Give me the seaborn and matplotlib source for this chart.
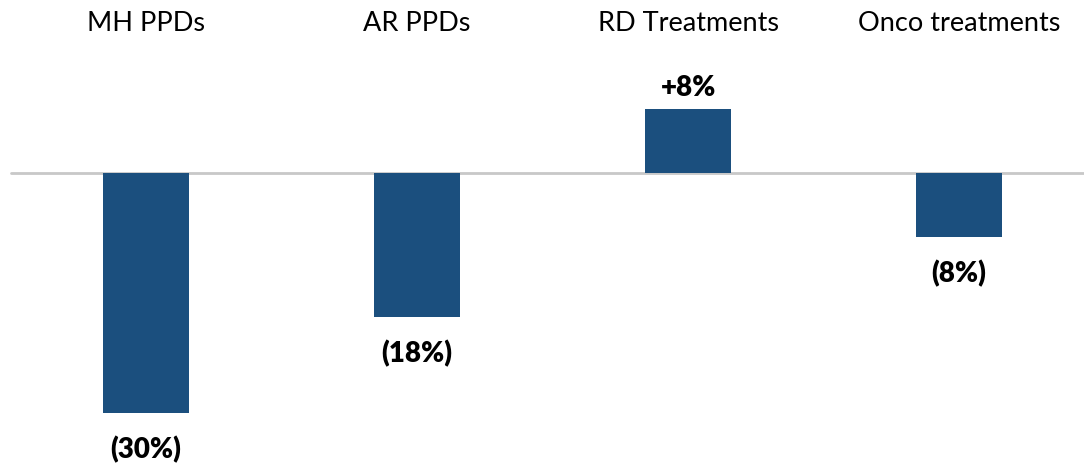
import pandas as pd
import seaborn as sns
import matplotlib.pyplot as plt

# =========================
# Data
# =========================

categories = ["MH PPDs", "AR PPDs", "RD Treatments", "Onco treatments"]
changes = [-30, -18, 8, -8]
value_labels = ["(30%)", "(18%)", "+8%", "(8%)"]

df = pd.DataFrame({"category": categories, "change": changes})

# =========================
# Plot
# =========================

sns.set_style("white")
plt.rcParams["font.family"] = ["Lato", "DejaVu Sans"]

fig = plt.figure(figsize=(10.84, 4.68), dpi=100)
ax = fig.add_axes([0, 0, 1, 1])

sns.barplot(
    data=df,
    x="category",
    y="change",
    color="#1B4F7E",
    width=0.315,
    saturation=1,
    linewidth=0,
    ax=ax
)

# zero line
ax.axhline(0, xmin=0.010, xmax=1, color="#C8C8C8", linewidth=2, zorder=0)

ax.set_xlim(-0.539, 3.461)
ax.set_ylim(-36.9, 21.6)

# category names along the top
for i, name in enumerate(categories):
    ax.text(i, 18.7, name, ha="center", va="center", fontsize=19.5, color="black")

# value labels
for i, (v, lab) in enumerate(zip(changes, value_labels)):
    if v >= 0:
        ax.text(i, v + 2.6, lab, ha="center", va="center",
                fontsize=20, fontweight="heavy", color="black")
    else:
        ax.text(i, v - 4.6, lab, ha="center", va="center",
                fontsize=20, fontweight="heavy", color="black")

ax.axis("off")

plt.savefig("out.png", dpi=100)
